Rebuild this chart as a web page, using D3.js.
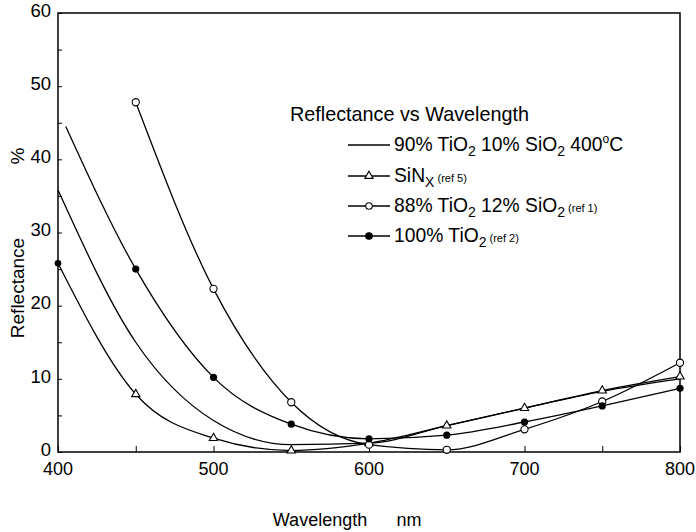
<!DOCTYPE html>
<html>
<head>
<meta charset="utf-8">
<script src="https://cdn.jsdelivr.net/npm/d3@7"></script>
<style>
  body { margin: 0; background: #fff; }
  svg { font-family: "Liberation Sans", Arial, sans-serif; }
</style>
</head>
<body>
<svg id="chart" width="696" height="532"></svg>
<script>
// values (wavelength nm, reflectance %)
const wavelengthTicks = [400, 500, 600, 700, 800]
const reflectanceTicks = [0, 10, 20, 30, 40, 50, 60]

// 90% TiO2 10% SiO2 400C - plain line, no markers
const mixed400 = [[400, 35.8], [450, 15.0], [500, 4.3], [550, 1.0], [600, 1.2], [650, 3.6], [700, 6.0], [750, 8.3], [800, 10.0]]
// SiNx (ref 5) - triangles
const sinx = [[400, 25.8], [450, 7.9], [500, 1.9], [550, 0.2], [600, 1.2], [650, 3.6], [700, 6.0], [750, 8.4], [800, 10.3]]
// 88% TiO2 12% SiO2 (ref 1) - open circles
const mixed88 = [[450, 47.8], [500, 22.3], [550, 6.8], [600, 1.0], [650, 0.3], [700, 3.1], [750, 6.9], [800, 12.2]]
// 100% TiO2 (ref 2) - filled dots, line starts before first measured point
const tio2 = [[405, 44.5], [450, 25.0], [500, 10.2], [550, 3.8], [600, 1.8], [650, 2.3], [700, 4.1], [750, 6.3], [800, 8.7]]

let margin = {top: 13, right: 16, bottom: 80, left: 58}
let width = 696 - margin.left - margin.right
let height = 532 - margin.top - margin.bottom

let svg = d3.select('#chart')
let g = svg.append('g')
    .attr('transform', 'translate(' + margin.left + ',' + margin.top + ')')

let x = d3.scaleLinear().domain([400, 800]).range([0, width])
let y = d3.scaleLinear().domain([0, 60]).range([height, 0])

// frame
g.append('rect')
    .attr('width', width)
    .attr('height', height)
    .attr('fill', 'none')
    .attr('stroke', '#000')
    .attr('stroke-width', 1.5)

// small inward ticks
let xAxis = g.append('g')
    .attr('transform', 'translate(0,' + height + ')')
    .call(d3.axisBottom(x).tickValues(d3.range(400, 801, 50)).tickSize(-6).tickFormat(''))
xAxis.select('.domain').remove()

let yAxis = g.append('g')
    .call(d3.axisLeft(y).tickValues(d3.range(0, 61, 5)).tickSize(-4).tickFormat(''))
yAxis.select('.domain').remove()

g.selectAll('.xlabel')
    .data(wavelengthTicks)
  .enter().append('text')
    .attr('class', 'xlabel')
    .attr('x', d => x(d))
    .attr('y', height + 23)
    .attr('text-anchor', 'middle')
    .style('font-size', '18px')
    .text(d => d)

g.selectAll('.ylabel')
    .data(reflectanceTicks)
  .enter().append('text')
    .attr('class', 'ylabel')
    .attr('x', -7)
    .attr('y', d => y(d))
    .attr('dy', '0.2em')
    .attr('text-anchor', 'end')
    .style('font-size', '18.5px')
    .text(d => d)

svg.append('text')
    .attr('x', 320)
    .attr('y', 526)
    .attr('text-anchor', 'middle')
    .style('font-size', '18px')
    .text('Wavelength')
svg.append('text')
    .attr('x', 409)
    .attr('y', 526)
    .attr('text-anchor', 'middle')
    .style('font-size', '18px')
    .text('nm')

svg.append('text')
    .attr('transform', 'translate(24,288) rotate(-90)')
    .attr('text-anchor', 'middle')
    .style('font-size', '19px')
    .text('Reflectance')
svg.append('text')
    .attr('transform', 'translate(24,156) rotate(-90)')
    .attr('text-anchor', 'middle')
    .style('font-size', '19px')
    .text('%')

let line = d3.line()
    .x(d => x(d[0]))
    .y(d => y(d[1]))
    .curve(d3.curveMonotoneX)

let series = [mixed400, sinx, mixed88, tio2]
g.selectAll('.curve')
    .data(series)
  .enter().append('path')
    .attr('class', 'curve')
    .attr('d', line)
    .attr('fill', 'none')
    .attr('stroke', '#000')
    .attr('stroke-width', 1.3)

let tri = d3.symbol().type(d3.symbolTriangle).size(30)

g.selectAll('.tri')
    .data(sinx.slice(1))
  .enter().append('path')
    .attr('class', 'tri')
    .attr('d', tri)
    .attr('transform', d => 'translate(' + x(d[0]) + ',' + y(d[1]) + ')')
    .attr('fill', '#fff')
    .attr('stroke', '#000')
    .attr('stroke-width', 1.1)

// the SiNx line begins at a solid dot on the axis
g.append('circle')
    .attr('cx', x(sinx[0][0]))
    .attr('cy', y(sinx[0][1]))
    .attr('r', 3.3)
    .attr('fill', '#000')

g.selectAll('.open')
    .data(mixed88)
  .enter().append('circle')
    .attr('class', 'open')
    .attr('cx', d => x(d[0]))
    .attr('cy', d => y(d[1]))
    .attr('r', 3.6)
    .attr('fill', '#fff')
    .attr('stroke', '#000')
    .attr('stroke-width', 1.1)

g.selectAll('.solid')
    .data(tio2.slice(1))
  .enter().append('circle')
    .attr('class', 'solid')
    .attr('cx', d => x(d[0]))
    .attr('cy', d => y(d[1]))
    .attr('r', 3.6)
    .attr('fill', '#000')

// legend
let legend = svg.append('g')
legend.append('text')
    .attr('x', 290)
    .attr('y', 121)
    .style('font-size', '19.8px')
    .text('Reflectance vs Wavelength')

let rows = [
  {y: 145, mark: 'none', parts: [['90% TiO', 0], ['2', 1], [' 10% SiO', 0], ['2', 1], [' 400', 0], ['o', 2], ['C', 0]]},
  {y: 176, mark: 'tri', parts: [['SiN', 0], ['X', 1], [' (ref 5)', 3]]},
  {y: 206, mark: 'open', parts: [['88% TiO', 0], ['2', 1], [' 12% SiO', 0], ['2', 1], [' (ref 1)', 3]]},
  {y: 236, mark: 'solid', parts: [['100% TiO', 0], ['2', 1], [' (ref 2)', 3]]}
]

rows.forEach(function(r) {
  legend.append('line')
      .attr('x1', 348).attr('x2', 390)
      .attr('y1', r.y).attr('y2', r.y)
      .attr('stroke', '#000')
      .attr('stroke-width', 1.3)
  if (r.mark === 'tri') {
    legend.append('path')
        .attr('d', tri)
        .attr('transform', 'translate(369,' + r.y + ')')
        .attr('fill', '#fff').attr('stroke', '#000').attr('stroke-width', 1.1)
  } else if (r.mark !== 'none') {
    legend.append('circle')
        .attr('cx', 369).attr('cy', r.y).attr('r', 3.3)
        .attr('fill', r.mark === 'solid' ? '#000' : '#fff')
        .attr('stroke', '#000').attr('stroke-width', 1.1)
  }
  let t = legend.append('text')
      .attr('x', 394)
      .attr('y', r.y + 6)
      .style('font-size', '19.3px')
  // kind: 0 normal, 1 subscript, 2 superscript, 3 small reference note
  let shift = 0
  r.parts.forEach(function(p) {
    let target = p[1] === 1 ? 5 : p[1] === 2 ? -8 : 0
    let span = t.append('tspan')
        .attr('dy', target - shift)
        .text(p[0])
    shift = target
    if (p[1] === 1) span.style('font-size', '14px')
    if (p[1] === 2) span.style('font-size', '12px')
    if (p[1] === 3) span.style('font-size', '11px')
  })
})
</script>
</body>
</html>
